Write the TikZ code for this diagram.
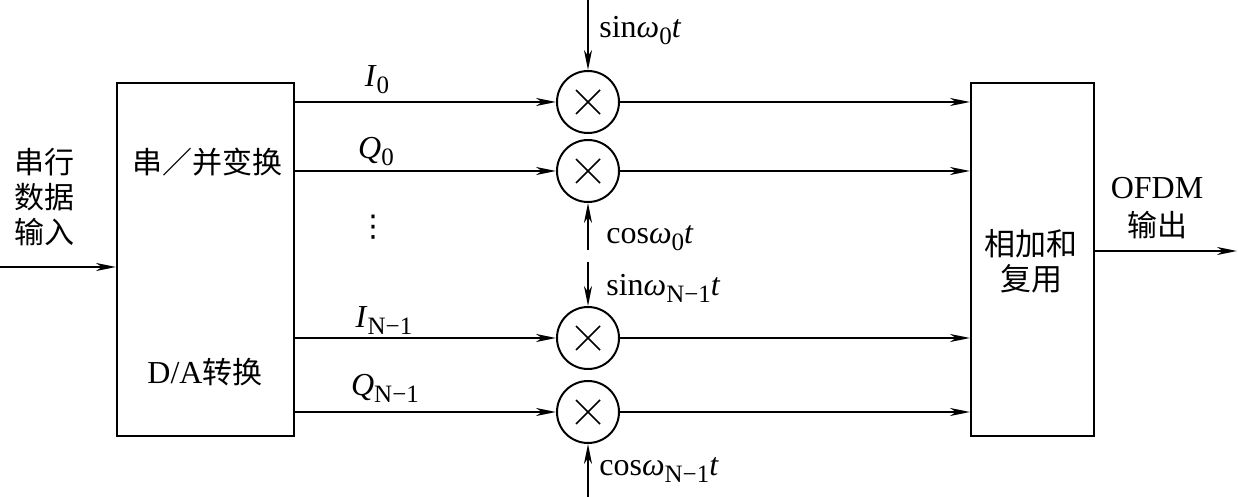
\documentclass[tikz,border=0pt]{standalone}
\usepackage{fontspec}
\setmainfont{Liberation Serif}
\newfontfamily\cjk{Noto Sans CJK SC}
\newfontfamily\djv{DejaVu Sans}
\newcommand\mysub[1]{\raisebox{-3.5pt}{\fontsize{12.5}{12.5}\selectfont #1}}
\usetikzlibrary{arrows.meta}
\begin{document}
\begin{tikzpicture}[x=0.5pt,y=-0.5pt,
  every node/.style={inner sep=0pt,font=\fontsize{16}{18}\selectfont},
  blk/.style={draw,line width=1pt,minimum width=88.5pt,minimum height=176.5pt},
  mult/.style={draw,circle,line width=1pt,minimum size=31pt,
    path picture={\draw[line width=0.8pt] (path picture bounding box.center) +(-6pt,-6pt) -- +(6pt,6pt)
      (path picture bounding box.center) +(-6pt,6pt) -- +(6pt,-6pt);}},
  arr/.style={line width=1pt,-{Stealth[length=10pt,width=4pt,inset=3pt]}},
  cjkt/.style={font=\fontsize{15}{17.5}\selectfont\cjk,align=center}]
\useasboundingbox (0,0) rectangle (1238,497);
% blocks
\node[blk,minimum width=88.5pt] (ser) at (205.5,259.5) {};
\node[blk,minimum width=61.5pt] (sum) at (1032.5,259.5) {};
\node[cjkt] (sert) at (207,162) {串／并变换};
\node (dat) at (205,372) {D/A{\cjk\fontsize{15}{17.5}\selectfont 转换}};
\node[cjkt,font=\fontsize{15.5}{17.5}\selectfont\cjk] (sumt) at (1031,261) {相加和\\复用};
\node[cjkt] (int) at (44,197) {串行\\数据\\输入};
\node (ofdm) at (1157,188) {OFDM};
\node[cjkt] (outt) at (1157,225) {输出};
% multipliers
\node[mult] (m1) at (588,102) {};
\node[mult] (m2) at (588,171) {};
\node[mult] (m3) at (588,338) {};
\node[mult] (m4) at (588,412) {};
% coordinates
\coordinate (in) at (0,267);
\coordinate (out) at (1237,251);
\coordinate (c1) at (588,0);
\coordinate (c2) at (588,250);
\coordinate (c3) at (588,262);
\coordinate (c4) at (588,497);
% connectors
\draw[arr] (in) -- (ser.west |- in);
\draw[arr] (sum.east |- out) -- (out);
\foreach \m in {m1,m2,m3,m4}{
  \draw[arr] (ser.east |- \m) -- (\m.west);
  \draw[arr] (\m.east) -- (sum.west |- \m);
}
\draw[arr] (c1) -- (m1.north);
\draw[arr] (c2) -- (m2.south);
\draw[arr] (c3) -- (m3.north);
\draw[arr] (c4) -- (m4.south);
% labels
\node (lI0) at (377,80) {\textit{I}\mysub{0}};
\node (lQ0) at (376,152) {\textit{Q}\mysub{0}};
\node[font=\fontsize{15}{15}\selectfont\djv] (ldots) at (373,227) {⋮};
\node (lIN) at (384,321) {\textit{I}\mysub{N−1}};
\node (lQN) at (385,388) {\textit{Q}\mysub{N−1}};
\node[anchor=west] (ls0) at (599,31) {sin\textit{ω}\mysub{0}\textit{t}};
\node[anchor=west] (lc0) at (606,238) {cos\textit{ω}\mysub{0}\textit{t}};
\node[anchor=west] (lsN) at (606,288) {sin\textit{ω}\mysub{N−1}\textit{t}};
\node[anchor=west] (lcN) at (599,470) {cos\textit{ω}\mysub{N−1}\textit{t}};
\end{tikzpicture}
\end{document}
